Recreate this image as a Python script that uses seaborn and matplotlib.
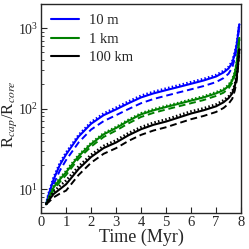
import numpy as np
import pandas as pd
import seaborn as sns
import matplotlib
matplotlib.use("Agg")
import matplotlib.pyplot as plt

# time axis (Myr), shared by all curves
t = [0.2, 0.3, 0.5, 0.75, 1.0, 1.5, 2.0, 2.5, 3.0, 3.5, 4.0, 4.5, 5.0, 5.5,
     6.0, 6.5, 7.0, 7.3, 7.5, 7.65, 7.75, 7.83, 7.88, 7.93]

# R_cap / R_core, 10 m
blue_solid = [6.5, 8.5, 13.2, 20, 27, 45, 65, 83, 98, 117, 138, 155, 170, 186,
              204, 224, 251, 282, 316, 372, 479, 631, 832, 1120]
blue_dash = [6.5, 8.0, 11.5, 17, 23, 38, 55, 70, 83, 99, 117, 132, 145, 159,
             174, 191, 214, 240, 272, 325, 420, 570, 780, 1120]
blue_dot = [6.5, 8.8, 13.9, 21, 28.5, 47, 68, 87, 103, 123, 145, 162, 178, 195,
            214, 234, 262, 294, 330, 388, 495, 645, 845, 1120]

# 1 km
green_solid = [6.5, 7.6, 10.5, 13.2, 16.2, 25.7, 36.3, 47.9, 57.5, 70.8, 85.1, 95.5, 105, 115,
               126, 138, 155, 170, 191, 224, 275, 372, 501, 759]
green_dash = [6.5, 7.3, 9.8, 12.3, 15, 23.9, 33.8, 44.5, 53.5, 65.8, 79, 88.8, 97.7, 107,
              117, 128, 144, 158, 178, 210, 260, 355, 490, 759]
green_dot = [6.5, 7.8, 10.9, 13.7, 16.8, 26.5, 37.4, 49.3, 59.2, 72.9, 87.6, 98.4, 108, 118,
             130, 142, 160, 175, 197, 230, 282, 380, 510, 759]

# 100 km
black_solid = [6.5, 7.2, 8.7, 10, 11.5, 17.8, 25.1, 32.4, 38, 46.8, 55.6, 63.1, 69.2, 77.6,
               87.1, 95.5, 107, 120, 135, 155, 191, 251, 355, 550]
black_dash = [6.5, 6.9, 7.9, 8.8, 9.6, 15, 21.3, 27.5, 32.3, 39.8, 47.3, 53.6, 58.8, 66,
              74, 81.2, 91, 102, 115, 133, 168, 225, 330, 550]
black_dot = [6.5, 7.5, 9.3, 11, 12.8, 19.2, 26.8, 34.5, 40.5, 49.8, 59, 67, 73.5, 82.5,
             92.5, 101, 113, 127, 142, 163, 199, 261, 363, 550]

labels = ["10 m", "1 km", "100 km"]
colors = ["#0000ff", "#008000", "#000000"]

sns.set_style("ticks")
plt.rcParams['font.family'] = ['Liberation Serif', 'DejaVu Serif']
plt.rcParams['mathtext.fontset'] = 'stix'

fig = plt.figure(figsize=(2.49, 2.49), dpi=100)
ax = fig.add_axes([0.165, 0.143, 0.803, 0.841])

groups = [(blue_solid, blue_dash, blue_dot),
          (green_solid, green_dash, green_dot),
          (black_solid, black_dash, black_dot)]

for (solid, dash, dot), lab, c in zip(groups, labels, colors):
    sns.lineplot(x=t, y=dot, ax=ax, color=c, linestyle=(0, (0.6, 0.9)), lw=1.8)
    sns.lineplot(x=t, y=dash, ax=ax, color=c, linestyle=(0, (3.5, 2)), lw=1.4)
    sns.lineplot(x=t, y=solid, ax=ax, color=c, lw=1.5, label=lab)

ax.set_yscale("log")
ax.set_xlim(0, 8)
ax.set_ylim(5, 2000)
ax.set_xticks(range(0, 9))
ax.tick_params(axis="both", which="both", direction="in")
ax.tick_params(axis="x", which="minor", bottom=False)
ax.tick_params(axis="x", pad=2, labelsize=10.5)
ax.tick_params(axis="y", pad=2, labelsize=10)
ax.tick_params(which="major", length=4)
ax.tick_params(which="minor", length=2)
ax.set_xlabel("Time (Myr)", fontsize=13, labelpad=0)
ax.set_ylabel(r"R$_{cap}$/R$_{core}$", fontsize=12)
ax.yaxis.set_label_coords(-0.11, 0.475)

for s in ax.spines.values():
    s.set_linewidth(1.0)

ax.legend(loc="upper left", frameon=False, fontsize=10.5, handlelength=1.9,
          handletextpad=0.7, borderaxespad=0.3, labelspacing=0.35)

fig.savefig("out.png", dpi=100)
